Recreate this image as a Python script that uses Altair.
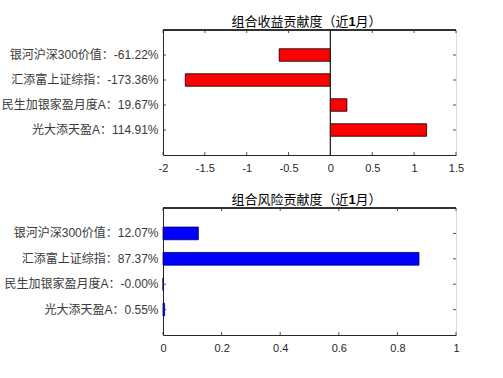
import altair as alt
import pandas as pd

names = ["银河沪深300价值", "汇添富上证综指", "民生加银家盈月度A", "光大添天盈A"]
ret_vals = [-0.6122, -1.7336, 0.1967, 1.1491]
risk_vals = [0.1207, 0.8737, -0.0, 0.0055]
ret_ticks = [-2, -1.5, -1, -0.5, 0, 0.5, 1, 1.5]
risk_ticks = [0, 0.2, 0.4, 0.6, 0.8, 1]
ret_title = ["组合收益贡献度（近", "1", "月）"]
risk_title = ["组合风险贡献度（近", "1", "月）"]

W = 293
FONT = "Liberation Sans, Noto Sans CJK SC"
DARK = "#262626"
TFS = 13


def title_layers(parts):
    c = W / 2 - 3
    pos = [(c + 41.9, "right", "normal"), (c + 45.5, "center", "bold"), (c + 49.1, "left", "normal")]
    out = []
    for p, (xv, al, fw) in zip(parts, pos):
        out.append(alt.Chart(pd.DataFrame({"s": [p]})).mark_text(
            align=al, baseline="alphabetic", fontSize=TFS, fontWeight=fw,
            font=FONT, color="#000000").encode(
            text="s:N", x=alt.value(xv), y=alt.value(-4)))
    return out


def panel(vals, ticks, domain, title, color, edge, H, zero_line):
    df = pd.DataFrame({"name": names, "v": vals})
    df["label"] = [f"{n}：{v * 100:.2f}%" for n, v in zip(names, vals)]
    order = list(df["label"])
    tdf = pd.DataFrame({"t": ticks})
    xs = alt.Scale(domain=domain, nice=False, zero=False)
    ys = alt.Scale(domain=order, paddingInner=0.5, paddingOuter=0.75)
    xaxis = alt.Axis(values=ticks, tickSize=0, labelPadding=7, domainColor=DARK,
                     labelColor=DARK, labelFontSize=11, grid=False, title=None,
                     labelExpr="'' + datum.value", labelFont=FONT,
                     labelOverlap=False, labelFlush=False, labelBound=False)
    yaxis = alt.Axis(tickSize=0, labelPadding=5, domainColor=DARK, labelColor="#3a3a3a",
                     labelFontSize=12, grid=False, title=None, labelFont=FONT, labelLimit=0,
                     labelOverlap=False)
    base = alt.Chart(df)
    bars = base.mark_bar(color=color, stroke=edge, strokeWidth=0.8).encode(
        x=alt.X("v:Q", scale=xs, axis=xaxis),
        x2=alt.datum(0),
        y=alt.Y("label:N", scale=ys, sort=order, axis=yaxis),
    )
    tick_b = alt.Chart(tdf).mark_rule(color=DARK, strokeWidth=0.8).encode(
        x=alt.X("t:Q", scale=xs, axis=xaxis), y=alt.value(H), y2=alt.value(H - 3))
    tick_t = alt.Chart(tdf).mark_rule(color=DARK, strokeWidth=0.8).encode(
        x=alt.X("t:Q", scale=xs, axis=xaxis), y=alt.value(0), y2=alt.value(3))
    tick_l = base.mark_rule(color=DARK, strokeWidth=0.8).encode(
        y=alt.Y("label:N", scale=ys, sort=order, axis=yaxis), x=alt.value(0), x2=alt.value(3))
    tick_r = base.mark_rule(color=DARK, strokeWidth=0.8).encode(
        y=alt.Y("label:N", scale=ys, sort=order, axis=yaxis), x=alt.value(W - 3), x2=alt.value(W))
    top_line = base.mark_rule(color=DARK, strokeWidth=1).encode(
        x=alt.value(0), x2=alt.value(W), y=alt.value(0))
    layers = [bars, tick_b, tick_t, tick_l, tick_r, top_line]
    if zero_line:
        zl = base.mark_rule(color=DARK, strokeWidth=1).encode(
            x=alt.datum(0), y=alt.value(0), y2=alt.value(H))
        layers.append(zl)
    layers += title_layers(title)
    return alt.layer(*layers).properties(width=W, height=H)


top = panel(ret_vals, ret_ticks, [-2, 1.5], ret_title, "#ff0000", "#000000", 125, True)
bottom = panel(risk_vals, risk_ticks, [0, 1], risk_title, "#0000ff", "#000060", 127, False)

chart = alt.vconcat(top, bottom, spacing=53).properties(
    bounds="flush",
    padding={"left": 0, "top": 15, "right": 5, "bottom": 5},
).configure_view(stroke="#d0d0d0").configure(background="white")

chart.save("out.html", embed_options={"renderer": "svg", "actions": False})
